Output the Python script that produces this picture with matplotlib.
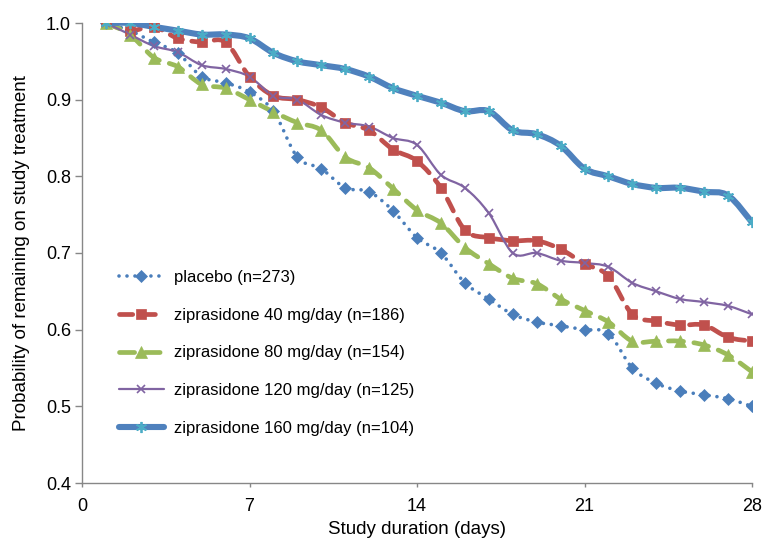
import numpy as np
import matplotlib
matplotlib.use("Agg")
import matplotlib.pyplot as plt
from matplotlib.path import Path
from matplotlib.patches import PathPatch
from matplotlib.lines import Line2D

plt.rcParams['font.family'] = ['Liberation Sans', 'DejaVu Sans']

days = np.arange(1, 29)

placebo = [1.0, 0.99, 0.975, 0.961, 0.93, 0.922, 0.91, 0.885, 0.825, 0.81,
           0.785, 0.78, 0.755, 0.72, 0.70, 0.661, 0.64, 0.62, 0.61, 0.605,
           0.60, 0.595, 0.55, 0.53, 0.52, 0.515, 0.51, 0.50]
zip40 = [1.0, 0.99, 0.995, 0.98, 0.975, 0.975, 0.93, 0.905, 0.90, 0.89,
         0.87, 0.86, 0.835, 0.82, 0.785, 0.73, 0.72, 0.716, 0.716, 0.705,
         0.686, 0.67, 0.62, 0.611, 0.606, 0.606, 0.59, 0.585]
zip80 = [1.0, 0.985, 0.955, 0.943, 0.92, 0.915, 0.90, 0.884, 0.87, 0.86,
         0.825, 0.811, 0.784, 0.756, 0.739, 0.707, 0.686, 0.667, 0.66, 0.64,
         0.625, 0.61, 0.585, 0.585, 0.585, 0.58, 0.567, 0.545]
zip120 = [1.0, 0.985, 0.97, 0.962, 0.945, 0.94, 0.93, 0.905, 0.90, 0.88,
          0.87, 0.865, 0.85, 0.841, 0.802, 0.785, 0.752, 0.70, 0.70, 0.69,
          0.687, 0.682, 0.661, 0.65, 0.64, 0.636, 0.631, 0.62]
zip160 = [1.0, 1.0, 0.995, 0.99, 0.985, 0.985, 0.98, 0.961, 0.95, 0.945,
          0.94, 0.93, 0.915, 0.905, 0.896, 0.885, 0.885, 0.86, 0.855, 0.84,
          0.81, 0.80, 0.79, 0.785, 0.785, 0.78, 0.775, 0.74]

labels = ["placebo (n=273)", "ziprasidone 40 mg/day (n=186)",
          "ziprasidone 80 mg/day (n=154)", "ziprasidone 120 mg/day (n=125)",
          "ziprasidone 160 mg/day (n=104)"]


def smooth_path(x, y):
    # excel-like smoothed line: cubic bezier through the points
    p = np.column_stack([x, y]).astype(float)
    n = len(p)
    verts = [p[0]]
    codes = [Path.MOVETO]
    for i in range(n - 1):
        p0 = p[max(i - 1, 0)]
        p3 = p[min(i + 2, n - 1)]
        c1 = p[i] + (p[i + 1] - p0) / 6.0
        c2 = p[i + 1] - (p3 - p[i]) / 6.0
        verts += [c1, c2, p[i + 1]]
        codes += [Path.CURVE4] * 3
    return Path(verts, codes)


styles = [
    dict(color="#4A7EBB", lw=2.6, ls=(0, (0.01, 2.2)), marker="D", ms=6.5,
         mfc="#4A7EBB", mec="#4A7EBB", mew=0.5),
    dict(color="#C0504D", lw=3.4, ls=(0, (2.8, 2.0)), marker="s", ms=7,
         mfc="#C0504D", mec="#C0504D", mew=0.5),
    dict(color="#9BBB59", lw=3.4, ls=(0, (3.2, 2.2)), marker="^", ms=8,
         mfc="#9BBB59", mec="#9BBB59", mew=0.5),
    dict(color="#8064A2", lw=1.6, ls="-", marker="x", ms=6,
         mfc="#8064A2", mec="#8064A2", mew=1.2),
    dict(color="#4F81BD", lw=4.4, ls="-", marker=(6, 2, 0), ms=8,
         mfc="#4BACC6", mec="#4BACC6", mew=1.3),
]

fig = plt.figure(figsize=(7.67, 5.39), dpi=100)
ax = fig.add_axes([82 / 767, 56 / 539, 670 / 767, 460 / 539])

handles = []
for vals, st, lab in zip([placebo, zip40, zip80, zip120, zip160], styles, labels):
    patch = PathPatch(smooth_path(days, vals), facecolor="none",
                      edgecolor=st["color"], lw=st["lw"], linestyle=st["ls"],
                      capstyle="round", joinstyle="round", zorder=2)
    ax.add_patch(patch)
    ax.plot(days, vals, linestyle="none", marker=st["marker"], ms=st["ms"],
            mfc=st["mfc"], mec=st["mec"], mew=st["mew"], zorder=3)
    h = Line2D([], [], color=st["color"], lw=st["lw"], linestyle=st["ls"],
               dash_capstyle="round", solid_capstyle="round",
               marker=st["marker"], ms=st["ms"], mfc=st["mfc"],
               mec=st["mec"], mew=st["mew"])
    handles.append(h)

ax.set_xlim(0, 28)
ax.set_ylim(0.4, 1.0)
ax.set_xticks([0, 7, 14, 21, 28])
ax.set_yticks(np.arange(0.4, 1.01, 0.1))
ax.set_yticklabels(["%.1f" % v for v in np.arange(0.4, 1.01, 0.1)])

for s in ["top", "right"]:
    ax.spines[s].set_visible(False)
for s in ["left", "bottom"]:
    ax.spines[s].set_color("#878787")
    ax.spines[s].set_linewidth(1.0)

ax.tick_params(axis="y", direction="out", length=5, width=1, color="#878787",
               labelsize=13, pad=3)
ax.tick_params(axis="x", direction="out", length=3, width=1, color="#878787",
               labelsize=13, pad=8)

ax.set_ylabel("Probability of remaining on study treatment", fontsize=13.5,
              labelpad=11)
ax.set_xlabel("Study duration (days)", fontsize=13.5, labelpad=4)

leg = ax.legend(handles, labels, loc="upper left",
                bbox_to_anchor=(0.055, 0.463), frameon=False, fontsize=12,
                numpoints=1, handlelength=2.7, handletextpad=0.6,
                labelspacing=1.36, borderpad=0, borderaxespad=0)

fig.savefig("out.png", dpi=100)
